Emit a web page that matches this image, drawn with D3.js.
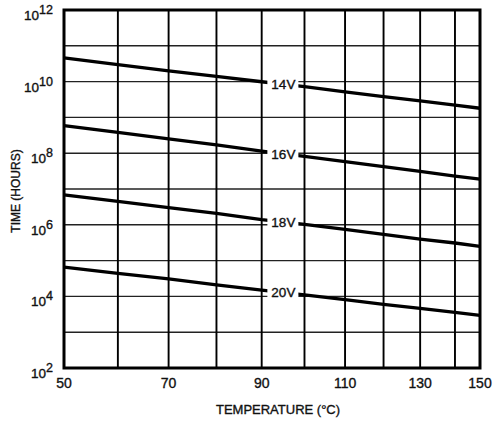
<!DOCTYPE html>
<html>
<head>
<meta charset="utf-8">
<script src="https://cdn.jsdelivr.net/npm/d3@7"></script>
<style>
  html, body { margin: 0; padding: 0; background: #fff; }
  svg { display: block; }
  text { font-family: "Liberation Sans", Arial, sans-serif; fill: #111; stroke: #111; stroke-width: 0.35px; }
</style>
</head>
<body>
<div id="chart"></div>
<script>
// ---- data ----
const temperatures = [50, 60, 70, 80, 90, 100, 110, 120, 130, 140, 150];
const seriesNames = ["14V", "16V", "18V", "20V"];
const hours14V = [4.6e10, 3.0e10, 2.0e10, 1.4e10, 9.9e9, 7.2e9, 5.2e9, 3.8e9, 2.9e9, 2.2e9, 1.8e9];
const hours16V = [5.9e8, 3.8e8, 2.5e8, 1.7e8, 1.15e8, 8.2e7, 5.8e7, 4.2e7, 3.1e7, 2.3e7, 1.9e7];
const hours18V = [6.9e6, 4.5e6, 3.0e6, 2.1e6, 1.4e6, 1.03e6, 7.4e5, 5.4e5, 4.0e5, 3.1e5, 2.5e5];
const hours20V = [6.6e4, 4.4e4, 3.1e4, 2.1e4, 1.5e4, 1.1e4, 8.1e3, 6.0e3, 4.6e3, 3.6e3, 2.95e3];
const xTickLabels = [50, 70, 90, 110, 130, 150];
const xGridTemps = [60, 70, 80, 90, 100, 110, 120, 130, 140];
const yTickExponents = [2, 4, 6, 8, 10, 12];
const yGridExponents = [3, 4, 5, 6, 7, 8, 9, 10, 11];
const labelTemp = 95;          // series labels sit between the 90 and 100 gridlines
const plotEndTemp = 147.5;     // right frame of the drawing (labelled 150)

const seriesValues = [hours14V, hours16V, hours18V, hours20V];

// ---- layout ----
const W = 493, H = 422;
const m = { left: 64, top: 10, right: 13, bottom: 54 };
const pw = W - m.left - m.right, ph = H - m.top - m.bottom;

const svg = d3.select("#chart").append("svg").attr("width", W).attr("height", H);
svg.append("rect").attr("width", W).attr("height", H).attr("fill", "#fff");
const g = svg.append("g").attr("transform", `translate(${m.left},${m.top})`);

// Arrhenius-style temperature axis (linear in 1/K)
const invK = t => 1 / (t + 273.15);
const xs = d3.scaleLinear().domain([invK(50), invK(plotEndTemp)]).range([0, pw]).clamp(true);
const X = t => xs(invK(t));
const Y = d3.scaleLog().domain([1e2, 1e12]).range([ph, 0]);

// horizontal gridlines
g.append("g").selectAll("line").data(yGridExponents).join("line")
  .attr("x1", 0).attr("x2", pw)
  .attr("y1", e => Y(Math.pow(10, e))).attr("y2", e => Y(Math.pow(10, e)))
  .attr("stroke", "#222").attr("stroke-width", 1.4);

// vertical gridlines
g.append("g").selectAll("line").data(xGridTemps).join("line")
  .attr("x1", t => X(t)).attr("x2", t => X(t))
  .attr("y1", 0).attr("y2", ph)
  .attr("stroke", "#000").attr("stroke-width", 1.9);

// series lines
const line = d3.line().x((d, i) => X(temperatures[i])).y(d => Y(d));
g.append("g").selectAll("path").data(seriesValues).join("path")
  .attr("d", d => line(d))
  .attr("fill", "none").attr("stroke", "#000").attr("stroke-width", 3.3)
  .attr("stroke-linejoin", "round");

// series labels with white backing
const i90 = temperatures.indexOf(90), i100 = temperatures.indexOf(100);
const labels = g.append("g").selectAll("g").data(seriesNames).join("g")
  .attr("transform", (n, k) => {
    const v = seriesValues[k];
    const ly = Math.pow(10, (Math.log10(v[i90]) + Math.log10(v[i100])) / 2);
    return `translate(${X(labelTemp)},${Y(ly)})`;
  });
labels.append("rect").attr("x", -16).attr("y", -7).attr("width", 31).attr("height", 14).attr("fill", "#fff");
labels.append("text").text(n => n)
  .attr("text-anchor", "middle").attr("dy", "0.36em")
  .attr("font-size", 13.5);

// frame
g.append("rect").attr("x", 0).attr("y", 0).attr("width", pw).attr("height", ph)
  .attr("fill", "none").attr("stroke", "#000").attr("stroke-width", 3);

// x tick labels
g.append("g").selectAll("text").data(xTickLabels).join("text")
  .attr("x", t => X(t)).attr("y", ph + 19.5)
  .attr("text-anchor", "middle").attr("font-size", 14)
  .text(t => t);

// y tick labels 10^n
const yl = g.append("g").selectAll("text").data(yTickExponents).join("text")
  .attr("x", -11).attr("y", e => Y(Math.pow(10, e)) + 10)
  .attr("text-anchor", "end").attr("font-size", 13.5);
yl.append("tspan").text("10");
yl.append("tspan").attr("dy", -6).attr("font-size", 12.5).text(e => e);

// axis titles
svg.append("text").attr("x", m.left + pw / 2 + 6).attr("y", 414)
  .attr("text-anchor", "middle").attr("font-size", 13)
  .text("TEMPERATURE (°C)");
svg.append("text").attr("transform", `translate(20,191) rotate(-90)`)
  .attr("text-anchor", "middle").attr("font-size", 12)
  .text("TIME (HOURS)");
</script>
</body>
</html>
